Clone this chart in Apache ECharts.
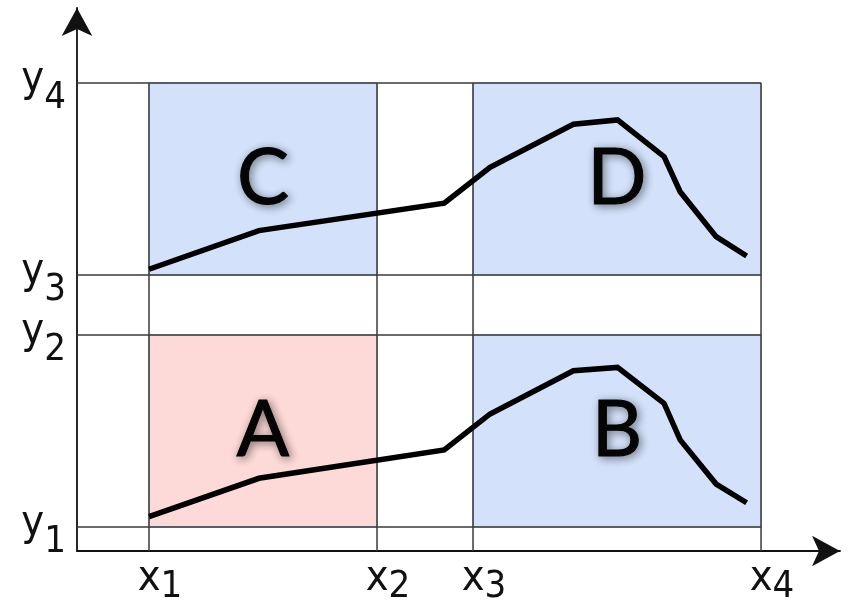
<!DOCTYPE html>
<html>
<head>
<meta charset="utf-8">
<script src="https://cdn.jsdelivr.net/npm/echarts@6/dist/echarts.min.js"></script>
<style>
  html, body { margin: 0; padding: 0; background: #fff; }
  #chart { width: 850px; height: 600px; }
</style>
</head>
<body>
<div id="chart"></div>
<script>
// Partition boundaries along each axis
const xTicks = [3, 12.5, 16.5, 28.5];
const xTickLabels = ['x1', 'x2', 'x3', 'x4'];
const yTicks = [1, 9, 11.5, 19.5];
const yTickLabels = ['y1', 'y2', 'y3', 'y4'];

// Sampled curve, drawn once per row of regions
const curveX = [3.0, 7.58, 15.3, 17.21, 20.68, 22.52, 24.46, 25.13, 26.63, 27.9];
const upperCurveY = [11.74, 13.35, 14.49, 15.99, 17.78, 17.96, 16.43, 14.97, 13.10, 12.29];
const lowerCurveY = [1.43, 3.03, 4.21, 5.71, 7.51, 7.65, 6.15, 4.63, 2.79, 2.01];

// Shaded regions: label, boundary index pairs on x and y
const regionNames = ['A', 'B', 'C', 'D'];
const regionXIdx = [[0, 1], [2, 3], [0, 1], [2, 3]];
const regionYIdx = [[0, 1], [0, 1], [2, 3], [2, 3]];

const BLUE = '#d3e1fa';
const PINK = '#fdd9d7';
const regionColor = { A: PINK, B: BLUE, C: BLUE, D: BLUE };

const LABEL_FONT = '"DejaVu Sans Condensed", "DejaVu Sans", sans-serif';

// Rich styles for "letter + subscript" tick labels
function tickRich(subWidth, mainPad, subPad) {
  return {
    sp: { width: subWidth },
    m: { fontFamily: LABEL_FONT, fontSize: 43, color: '#111', lineHeight: 44, padding: mainPad },
    s: { fontFamily: LABEL_FONT, fontSize: 38, color: '#111', lineHeight: 44, padding: subPad }
  };
}

function tickFormatter(values, labels, withSpacer) {
  return function (v) {
    const i = values.findIndex(t => Math.abs(t - v) < 1e-6);
    if (i < 0) return '';
    const lbl = labels[i];
    return (withSpacer ? '{sp|}' : '') + '{m|' + lbl[0] + '}{s|' + lbl.slice(1) + '}';
  };
}

const xMax = xTicks[xTicks.length - 1];
const yMax = yTicks[yTicks.length - 1];

// Grid segments: vertical lines rise from the x axis to the top boundary,
// horizontal lines run from the y axis to the right boundary.
const gridLine = { color: '#3a3a3a', width: 1.5 };
const gridSeries = [];
xTicks.forEach(x => {
  gridSeries.push({
    type: 'line', z: 3, silent: true, symbol: 'none', animation: false,
    lineStyle: gridLine, data: [[x, 0], [x, yMax]]
  });
});
yTicks.forEach(y => {
  gridSeries.push({
    type: 'line', z: 3, silent: true, symbol: 'none', animation: false,
    lineStyle: gridLine, data: [[0, y], [xMax, y]]
  });
});

const areaData = regionNames.map((name, k) => [
  {
    name: name,
    coord: [xTicks[regionXIdx[k][0]], yTicks[regionYIdx[k][0]]],
    itemStyle: { color: regionColor[name] }
  },
  { coord: [xTicks[regionXIdx[k][1]], yTicks[regionYIdx[k][1]]] }
]);

const regionSeries = {
  type: 'line', z: 1, silent: true, animation: false, data: [],
  markArea: {
    silent: true,
    animation: false,
    itemStyle: { borderColor: '#a9bde3', borderWidth: 1.5 },
    label: {
      show: true,
      position: 'inside',
      formatter: p => p.name,
      fontFamily: 'Lato, "Open Sans", sans-serif',
      fontWeight: 'normal',
      fontSize: 78,
      color: '#050505',
      textBorderColor: '#050505',
      textBorderWidth: 1,
      textShadowColor: 'rgba(0,0,0,0.45)',
      textShadowBlur: 8,
      textShadowOffsetX: 2,
      textShadowOffsetY: 2
    },
    emphasis: { disabled: true },
    data: areaData
  }
};

function curveSeries(ys) {
  return {
    type: 'line', z: 5, silent: true, symbol: 'none', animation: false,
    lineStyle: { color: '#000', width: 5.5, join: 'miter' },
    data: curveX.map((x, i) => [x, ys[i]])
  };
}

const axisLineStyle = {
  show: true,
  symbol: ['none', 'arrow'],
  symbolSize: [23, 28],
  lineStyle: { color: '#111', width: 1.8 }
};

const option = {
  animation: false,
  grid: { left: 77, right: 10, top: 8, bottom: 49, containLabel: false, outerBoundsMode: 'none' },
  xAxis: {
    type: 'value', min: 0, max: 31.79,
    axisLine: axisLineStyle,
    axisTick: { show: false },
    splitLine: { show: false },
    axisLabel: {
      customValues: xTicks,
      margin: 6,
      formatter: tickFormatter(xTicks, xTickLabels, true),
      rich: tickRich(22, [0, 0, 0, 0], [16, 0, 0, 0])
    }
  },
  yAxis: {
    type: 'value', min: 0, max: 22.625,
    axisLine: axisLineStyle,
    axisTick: { show: false },
    splitLine: { show: false },
    axisLabel: {
      customValues: yTicks,
      margin: 11,
      formatter: tickFormatter(yTicks, yTickLabels, false),
      rich: tickRich(0, [0, 0, 6, 0], [30, 0, 0, 0])
    }
  },
  series: [regionSeries].concat(gridSeries, [curveSeries(upperCurveY), curveSeries(lowerCurveY)])
};

const chart = echarts.init(document.getElementById('chart'), null, { renderer: 'canvas' });
chart.setOption(option);
</script>
</body>
</html>
